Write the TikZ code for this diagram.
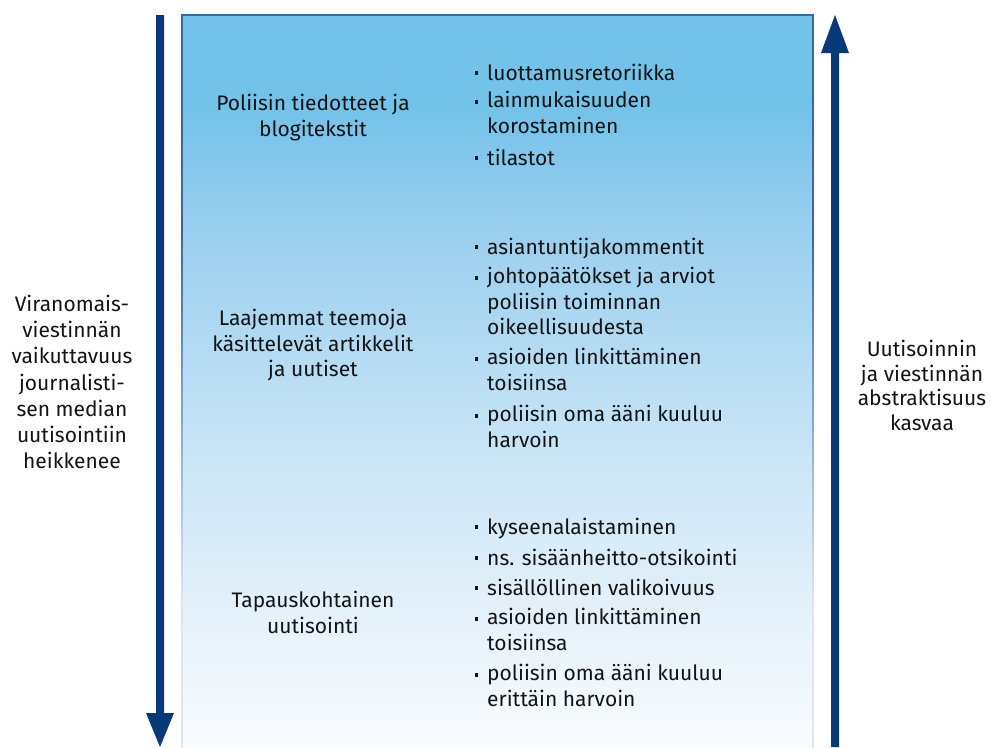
\documentclass[tikz,border=0pt]{standalone}
\usepackage{fontspec}
\setmainfont{Fira Sans}
\definecolor{navy}{HTML}{083A7A}
\definecolor{edgeblue}{HTML}{3568AA}
\definecolor{edgefade}{HTML}{E2E2F2}
\definecolor{btop}{HTML}{72C2E9}
\definecolor{bmid}{HTML}{9DD0EF}
\definecolor{blow}{HTML}{C6E4F6}
\definecolor{blow2}{HTML}{E2F0FA}
\definecolor{bbot}{HTML}{F9FCFF}
\definecolor{txt}{HTML}{141414}
\pgfdeclareverticalshading{boxshade}{100bp}{color(0bp)=(bbot); color(25bp)=(bbot); color(35bp)=(blow2); color(46bp)=(blow); color(59.5bp)=(bmid); color(69bp)=(btop); color(100bp)=(btop)}
\pgfdeclareverticalshading{edgeshade}{100bp}{color(0bp)=(edgefade); color(25bp)=(edgefade); color(35bp)=(edgefade); color(60bp)=(edgeblue); color(100bp)=(edgeblue)}
\tikzset{
  txtfont/.style={font=\fontsize{21}{25.6}\selectfont, text=txt, inner sep=0pt, execute at begin node=\strut},
  lbl/.style={txtfont, align=center, anchor=north, yshift=10pt},
  itm/.style={txtfont, align=left, anchor=north west, yshift=10pt},
  dot/.style={rectangle, fill=txt, inner sep=0pt, minimum size=3.2pt},
  arr/.style={fill=navy, draw=none}
}
\begin{document}
\begin{tikzpicture}[x=1pt,y=-1pt]
\useasboundingbox (0,0) rectangle (990,747);
% box
\shade[shading=boxshade] (182,15) rectangle (813,747);
\shade[shading=edgeshade] (181.2,15) rectangle (182.8,747);
\shade[shading=edgeshade] (812.2,15) rectangle (813.8,747);
\fill[edgeblue] (181.2,14.2) rectangle (813.8,15.8);
% left arrow (down)
\coordinate (la1) at (156,15);
\coordinate (la2) at (164,15);
\coordinate (la3) at (164,713);
\coordinate (la4) at (174,713);
\coordinate (latip) at (160,747);
\coordinate (la5) at (146,713);
\coordinate (la6) at (156,713);
\fill[arr] (la1) -- (la2) -- (la3) -- (la4) -- (latip) -- (la5) -- (la6) -- cycle;
% right arrow (up)
\coordinate (ra1) at (831,747);
\coordinate (ra2) at (839,747);
\coordinate (ra3) at (839,53);
\coordinate (ra4) at (849,53);
\coordinate (ratip) at (835,15);
\coordinate (ra5) at (821,53);
\coordinate (ra6) at (831,53);
\fill[arr] (ra1) -- (ra2) -- (ra3) -- (ra4) -- (ratip) -- (ra5) -- (ra6) -- cycle;
% side labels
\node[lbl, font=\fontsize{21}{26.2}\selectfont] (leftlbl) at (72,305) {Viranomais-\\viestinnän\\vaikuttavuus\\journalisti-\\sen median\\uutisointiin\\heikkenee};
\node[lbl, font=\fontsize{21}{24.7}\selectfont] (rightlbl) at (922,350) {Uutisoinnin\\ja viestinnän\\abstraktisuus\\kasvaa};
% row labels
\node[lbl] (r1) at (313,104) {Poliisin tiedotteet ja\\blogitekstit};
\node[lbl] (r2) at (313,319) {Laajemmat teemoja\\käsittelevät artikkelit\\ja uutiset};
\node[lbl] (r3) at (313,601) {Tapauskohtainen\\uutisointi};
% bullets group 1
\node[itm] (a1) at (487,72) {luottamusretoriikka};
\node[itm] (a2) at (487,101) {lainmukaisuuden\\korostaminen};
\node[itm] (a3) at (487,157) {tilastot};
% group 2
\node[itm] (b1) at (487,246) {asiantuntijakommentit};
\node[itm] (b2) at (487,277) {johtopäätökset ja arviot\\poliisin toiminnan\\oikeellisuudesta};
\node[itm] (b3) at (487,358) {asioiden linkittäminen\\toisiinsa};
\node[itm] (b4) at (487,415) {poliisin oma ääni kuuluu\\harvoin};
% group 3
\node[itm] (c1) at (487,526) {kyseenalaistaminen};
\node[itm] (c2) at (487,557) {ns. sisäänheitto-otsikointi};
\node[itm] (c3) at (487,587) {sisällöllinen valikoivuus};
\node[itm] (c4) at (487,618) {asioiden linkittäminen\\toisiinsa};
\node[itm] (c5) at (487,674) {poliisin oma ääni kuuluu\\erittäin harvoin};
\foreach \n/\yy in {a1/72,a2/101,a3/157,b1/246,b2/277,b3/358,b4/415,c1/526,c2/557,c3/587,c4/618,c5/674}
  \node[dot] (dot\n) at (476.5,\yy+1) {};
\end{tikzpicture}
\end{document}
